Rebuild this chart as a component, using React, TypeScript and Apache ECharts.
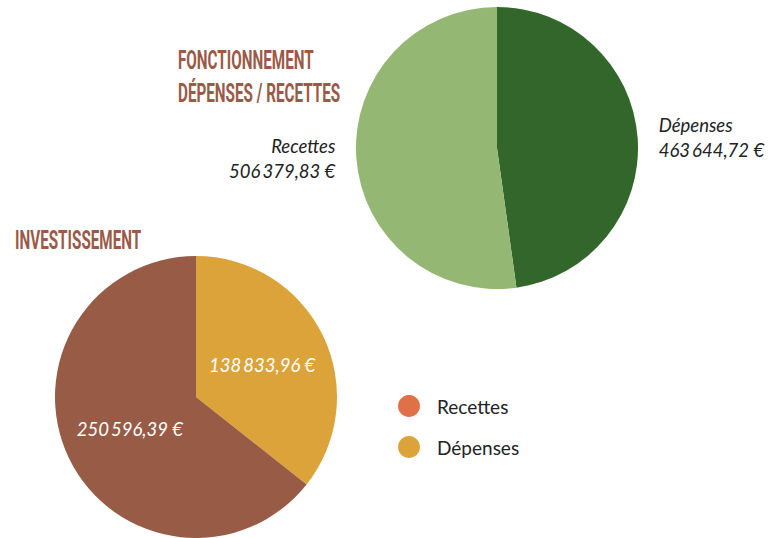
import React, { useEffect, useRef } from "react";
import * as echarts from "echarts";

const categories = ["Dépenses", "Recettes"];
const fonctionnementValues = [463644.72, 506379.83];
const investissementValues = [138833.96, 250596.39];
const legendItems = ["Recettes", "Dépenses"];
const titleLines = ["FONCTIONNEMENT", "DÉPENSES / RECETTES", "INVESTISSEMENT"];

const fmt = (v: number) => {
  const [i, d] = v.toFixed(2).split(".");
  const withSpaces = i.replace(/\B(?=(\d{3})+(?!\d))/g, "\u2009");
  return `${withSpaces},${d} €`;
};

const TITLE_FONT = "Roboto, sans-serif";
const BODY_FONT = "Lato, 'Noto Sans', sans-serif";
const TITLE_COLOR = "#9a5a47";

const titleText = (text: string, x: number, y: number) => ({
  type: "text",
  x,
  y,
  scaleX: 0.61,
  style: {
    text,
    fontFamily: TITLE_FONT,
    fontWeight: "bold",
    fontSize: 25,
    fill: TITLE_COLOR,
    textVerticalAlign: "top",
  },
});

export default function App() {
  const ref = useRef<HTMLDivElement>(null);
  useEffect(() => {
    if (!ref.current) return;
    const chart = echarts.init(ref.current, undefined, { renderer: "svg" });
    const topColors = ["#32662b", "#94b874"];
    const bottomColors = ["#dca33a", "#985b46"];
    chart.setOption({
      animation: false,
      backgroundColor: "#ffffff",
      graphic: [
        titleText(titleLines[0], 178, 48),
        titleText(titleLines[1], 178, 81),
        titleText(titleLines[2], 15, 228),
      ],
      legend: {
        orient: "vertical",
        left: 393,
        top: 390,
        icon: "circle",
        itemWidth: 22,
        itemHeight: 22,
        itemGap: 19,
        textStyle: { fontFamily: BODY_FONT, fontSize: 19, color: "#222", padding: [0, 0, 0, 12] },
        data: [
          { name: legendItems[0], itemStyle: { color: "#e07048" } },
          { name: legendItems[1], itemStyle: { color: "#dca33a" } },
        ],
      },
      series: [
        {
          type: "pie",
          center: [497, 148],
          radius: 141,
          startAngle: 90,
          clockwise: true,
          label: {
            show: true,
            position: "outside",
            fontFamily: BODY_FONT,
            fontStyle: "italic",
            fontSize: 18.5,
            lineHeight: 25,
            color: "#222",
            formatter: (p: any) => `${p.name}\n${fmt(p.value)}`,
          },
          labelLine: { show: false, length: 6, length2: 10 },
          data: categories.map((c, i) => ({
            name: c,
            value: fonctionnementValues[i],
            itemStyle: { color: topColors[i] },
          })),
        },
        {
          type: "pie",
          center: [196, 397],
          radius: 141,
          startAngle: 90,
          clockwise: true,
          label: {
            show: true,
            position: "inside",
            fontFamily: BODY_FONT,
            fontStyle: "italic",
            fontSize: 18.5,
            color: "#ffffff",
            formatter: (p: any) => fmt(p.value),
          },
          labelLine: { show: false },
          data: categories.map((c, i) => ({
            name: c,
            value: investissementValues[i],
            itemStyle: { color: bottomColors[i] },
          })),
        },
      ],
    });
    return () => chart.dispose();
  }, []);
  return (
    <div
      ref={ref}
      style={{ position: "absolute", left: 0, top: 0, width: 781, height: 538 }}
    />
  );
}
